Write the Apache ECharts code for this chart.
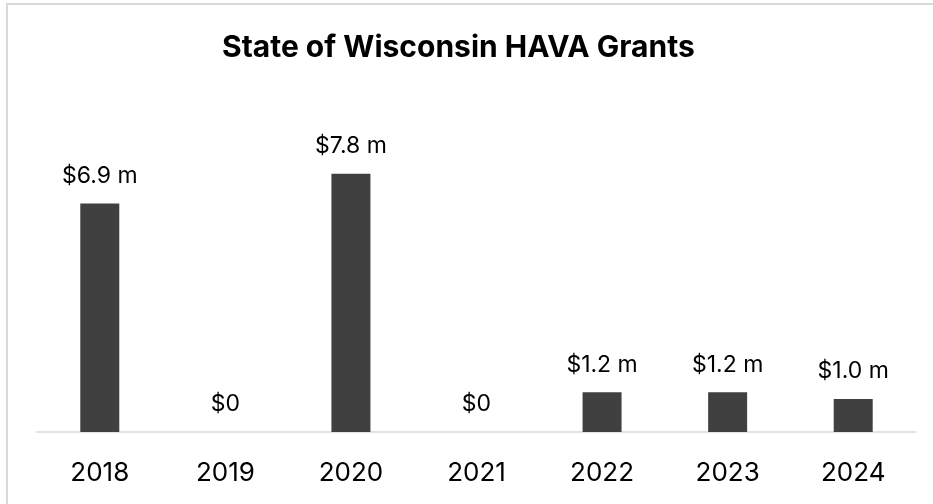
<!DOCTYPE html>
<html>
<head>
<meta charset="utf-8">
<script src="https://cdn.jsdelivr.net/npm/echarts@6/dist/echarts.min.js"></script>
<style>
  html, body { margin: 0; padding: 0; background: #fff; }
  #chart { width: 933px; height: 504px; }
</style>
</head>
<body>
<div id="chart"></div>
<script>
// Fiscal years and HAVA grant amounts (millions of dollars)
const years = ['2018', '2019', '2020', '2021', '2022', '2023', '2024'];
const grantMillions = [6.9, 0, 7.8, 0, 1.2, 1.2, 1.0];

const FONT = 'Inter, "Noto Sans", sans-serif';

function moneyLabel(v) {
  return v === 0 ? '$0' : '$' + v.toFixed(1) + ' m';
}

const chart = echarts.init(document.getElementById('chart'), null, { renderer: 'canvas' });

chart.setOption({
  animation: false,
  backgroundColor: '#ffffff',
  title: {
    text: 'State of Wisconsin HAVA Grants',
    left: 217,
    top: 28,
    textStyle: { fontFamily: FONT, fontWeight: 'bold', fontSize: 30, color: '#000' }
  },
  graphic: [{
    type: 'rect',
    shape: { x: 7, y: 4, width: 960, height: 540 },
    style: { fill: 'none', stroke: '#d9d9d9', lineWidth: 2 },
    silent: true
  }],
  grid: { left: 37, right: 17, top: 101, bottom: 72 },
  xAxis: {
    type: 'category',
    data: years,
    axisLine: { show: true, lineStyle: { color: '#d9d9d9', width: 1.5 } },
    axisTick: { show: false },
    axisLabel: { fontFamily: FONT, fontSize: 26, color: '#000', margin: 28 }
  },
  yAxis: {
    type: 'value',
    min: 0,
    max: 10,
    show: false,
    splitLine: { show: false }
  },
  series: [{
    type: 'bar',
    data: grantMillions,
    barWidth: 39,
    itemStyle: { color: '#404040' },
    label: {
      show: true,
      position: 'top',
      distance: 16,
      fontFamily: FONT,
      fontSize: 23,
      color: '#000',
      formatter: p => moneyLabel(p.value)
    }
  }]
});
</script>
</body>
</html>
